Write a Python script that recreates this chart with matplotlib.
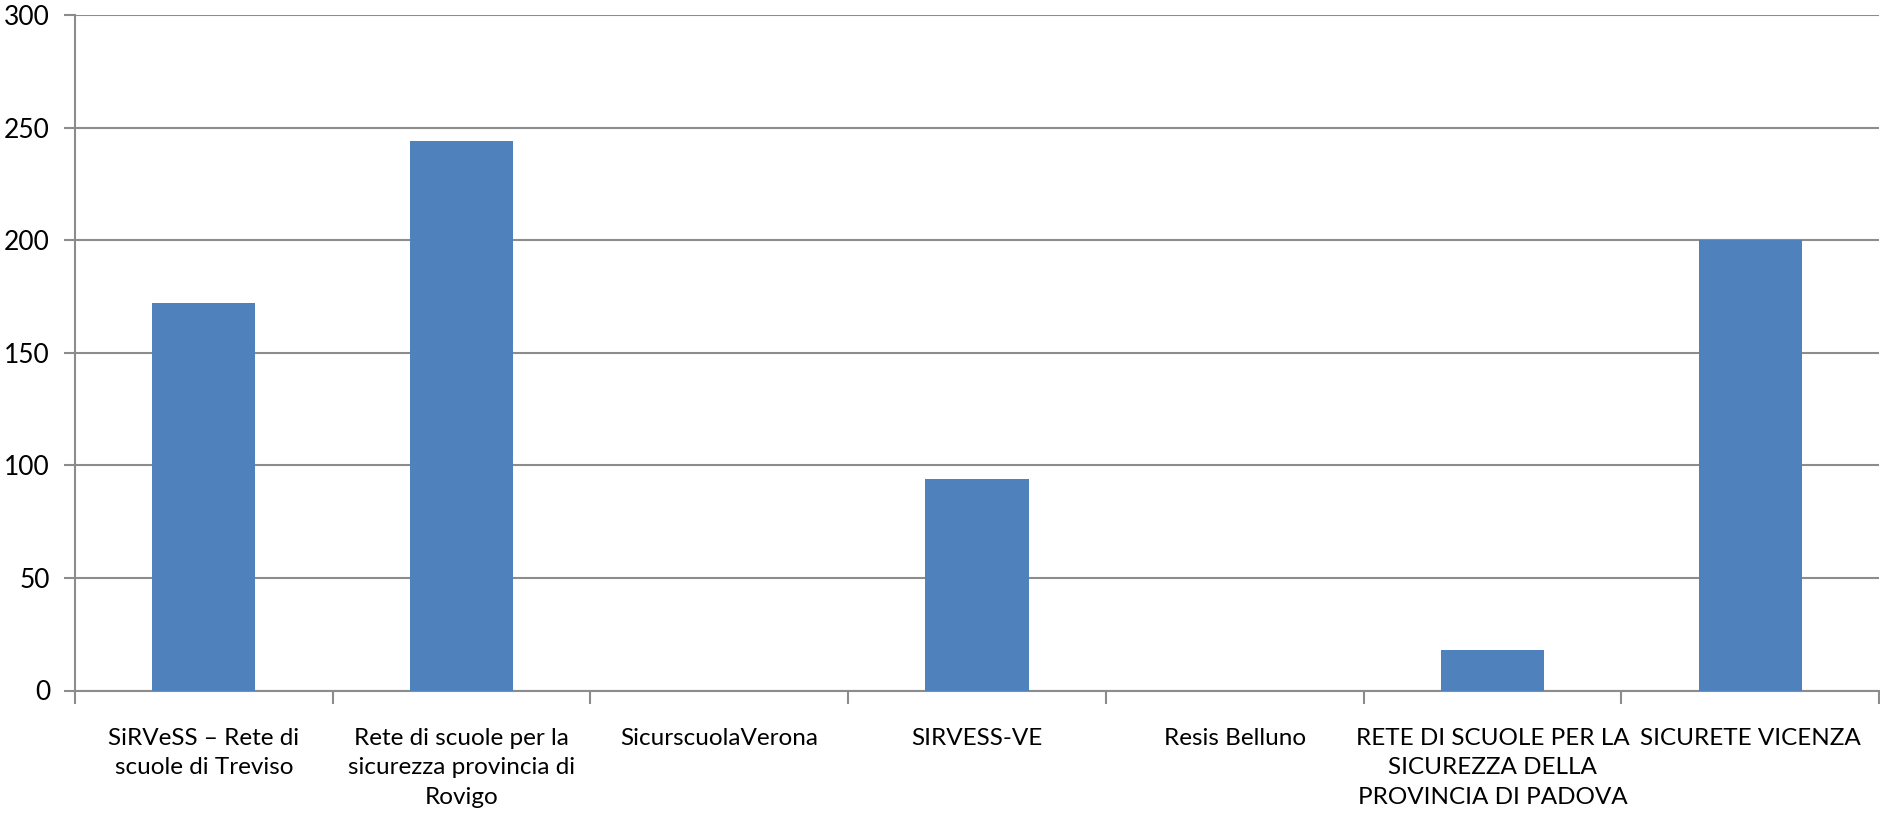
import numpy as np
import matplotlib.pyplot as plt
from matplotlib.ticker import FixedLocator

# Data
categories = [
    "SiRVeSS – Rete di\nscuole di Treviso",
    "Rete di scuole per la\nsicurezza provincia di\nRovigo",
    "SicurscuolaVerona",
    "SIRVESS-VE",
    "Resis Belluno",
    "RETE DI SCUOLE PER LA\nSICUREZZA DELLA\nPROVINCIA DI PADOVA",
    "SICURETE VICENZA",
]
values = [172, 244, 0, 94, 0, 18, 200]
y_ticks = [0, 50, 100, 150, 200, 250, 300]

plt.rcParams['font.family'] = ['Lato', 'DejaVu Sans']

fig = plt.figure(figsize=(18.81, 8.15), dpi=100)
ax = fig.add_axes([75 / 1881, 1 - 690.5 / 815, 1804 / 1881, (690.5 - 15) / 815])

x = np.arange(len(categories))
ax.bar(x, values, width=0.4, color='#4F81BD', zorder=3)

ax.set_xlim(-0.5, len(categories) - 0.5)
ax.set_ylim(0, 300)
ax.set_yticks(y_ticks)
ax.yaxis.grid(True, color='#8C8C8C', linewidth=1.5, zorder=0)

ax.set_xticks(x)
ax.set_xticklabels(categories, fontsize=17.5, linespacing=1.5)
ax.xaxis.set_minor_locator(FixedLocator(np.arange(len(categories) + 1) - 0.5))
ax.tick_params(axis='x', which='major', length=0, pad=27)
ax.tick_params(axis='x', which='minor', length=9, width=1.5, color='#8C8C8C')
ax.tick_params(axis='y', length=8, width=1.5, color='#8C8C8C', labelsize=19, pad=10)

for s in ['top', 'right']:
    ax.spines[s].set_visible(False)
for s in ['left', 'bottom']:
    ax.spines[s].set_color('#8C8C8C')
    ax.spines[s].set_linewidth(1.5)

fig.savefig('out.png', dpi=100)
